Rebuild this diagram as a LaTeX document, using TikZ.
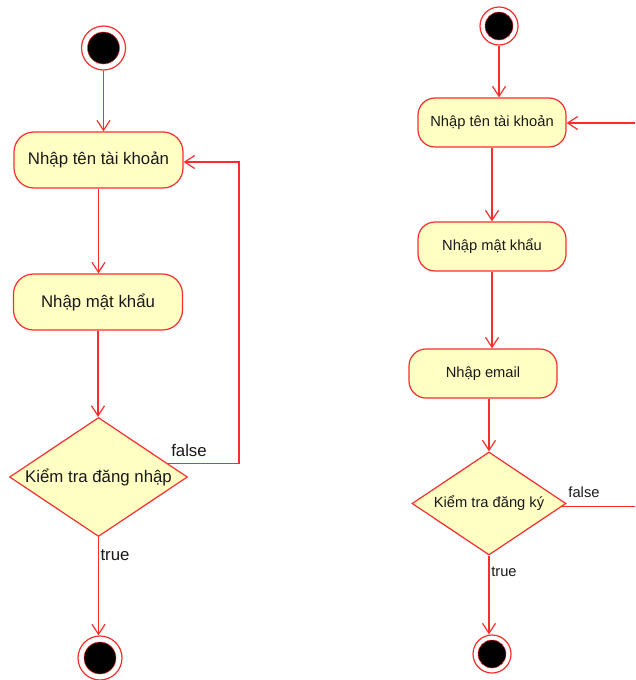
\documentclass[tikz,border=0pt]{standalone}
\usepackage{fontspec}
\setmainfont{Liberation Sans}
\usetikzlibrary{shapes.geometric,arrows.meta,calc}
\definecolor{umlred}{RGB}{250,45,45}
\definecolor{umlfill}{RGB}{255,255,196}

\begin{document}
\begin{tikzpicture}[x=1pt,y=-1pt,
  flow/.style={draw=umlred,line width=1.2pt,-{Straight Barb[length=10pt,width=13pt,line width=1.2pt]}},
  wire/.style={draw=umlred,line width=1.2pt},
  bigfont/.style={font=\fontsize{16.8}{20}\selectfont},
  smallfont/.style={font=\fontsize{14.7}{18}\selectfont},
  actbase/.style={draw=umlred,fill=umlfill,line width=1.2pt,inner sep=0pt,text=black!90},
  actL/.style={actbase,bigfont,rounded corners=20pt,minimum width=169pt,minimum height=56pt},
  actR/.style={actbase,smallfont,rounded corners=17pt,minimum width=148pt,minimum height=49pt},
  decL/.style={actbase,bigfont,diamond,shape aspect=1.5,minimum width=178pt,minimum height=119pt},
  decR/.style={actbase,smallfont,diamond,shape aspect=1.5,minimum width=154pt,minimum height=103pt},
  dot/.style={circle,draw=umlred,line width=1.2pt,fill=white,inner sep=0pt},
  initL/.style={dot,minimum size=44pt,path picture={\filldraw[fill=black,draw=umlred,line width=0.5pt] (path picture bounding box.center) circle (16pt);}},
  initR/.style={dot,minimum size=38pt,path picture={\filldraw[fill=black,draw=umlred,line width=0.5pt] (path picture bounding box.center) circle (14pt);}},
  lblL/.style={bigfont,inner sep=0pt,text=black!90},
  lblR/.style={smallfont,inner sep=0pt,text=black!90}
]
\useasboundingbox (0,0) rectangle (635,680);

% ---------- login flow ----------
\node[initL] (s1) at (103.5,48) {};
\node[actL] (b1) at (98.5,160) {Nhập tên tài khoản};
\node[actL] (b2) at (98,302) {Nhập mật khẩu};
\node[decL] (d1) at (98.5,477) {Kiểm tra đăng nhập};
\node[initL] (e1) at (100,658) {};

\draw[flow] (s1) -- (s1 |- b1.north);
\draw[flow] (b1.south) -- (b1.south |- b2.north);
\draw[flow] (b2.south) -- (b2.south |- d1.north);
\draw[flow] (d1.south) -- (d1.south |- e1.north);

\coordinate (f1) at ($(d1.north)!0.77!(d1.east)$);
\coordinate (lp) at (239,162);
\draw[flow] (f1) -| (lp) -- (lp -| b1.east);

\node[lblL] (t1) at (115,555) {true};
\node[lblL] (fl1) at (189,450) {false};

% ---------- registration flow ----------
\node[initR] (s2) at (499,26) {};
\node[actR] (c1) at (492,122.5) {Nhập tên tài khoản};
\node[actR] (c2) at (492,246.5) {Nhập mật khẩu};
\node[actR] (c3) at (483,373.5) {Nhập email};
\node[decR] (d2) at (489,503.5) {Kiểm tra đăng ký};
\node[initR] (e2) at (492,654) {};

\draw[flow] (s2) -- (s2 |- c1.north);
\draw[flow] (c1.south) -- (c1.south |- c2.north);
\draw[flow] (c2.south) -- (c2.south |- c3.north);
\draw[flow] (d2.north |- c3.south) -- (d2.north);
\draw[flow] (d2.south) -- (d2.south |- e2.north);

\coordinate (f2) at ($(d2.east)!0.06!(d2.south)$);
\coordinate (r1) at (635,506);
\draw[wire] (f2) -- (f2 -| r1);
\coordinate (r2) at (635,123);
\draw[flow] (r2) -- (r2 -| c1.east);

\node[lblR] (t2) at (504,572) {true};
\node[lblR] (fl2) at (584,492) {false};
\end{tikzpicture}
\end{document}
